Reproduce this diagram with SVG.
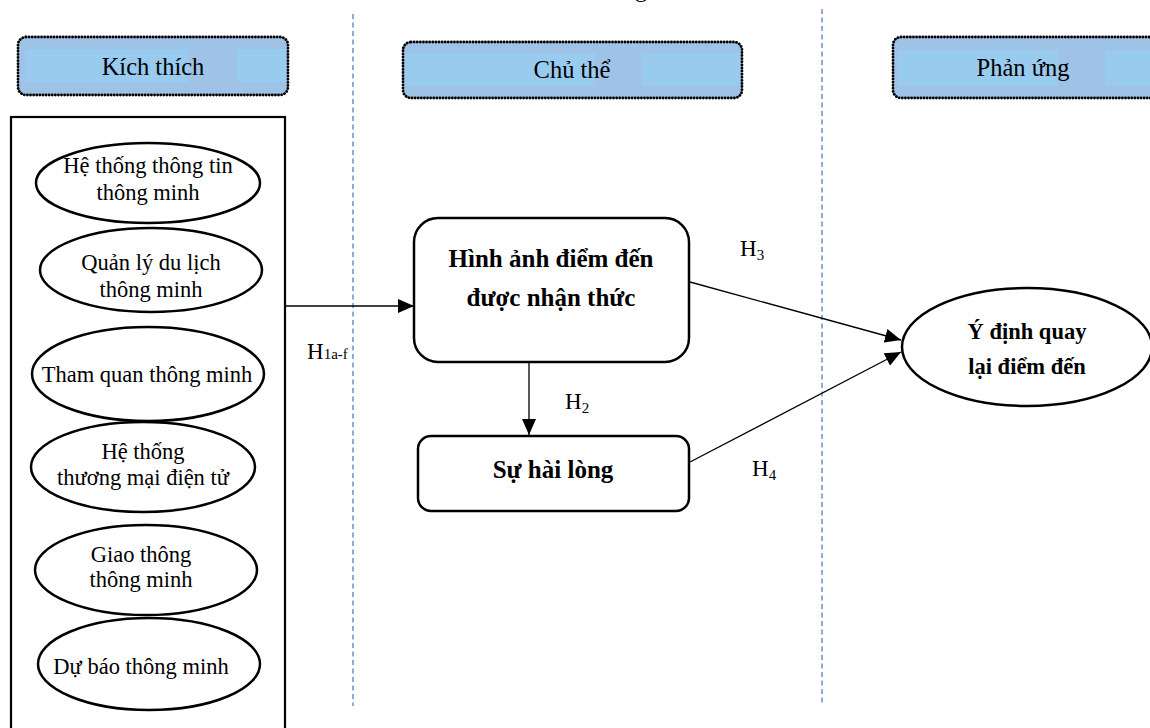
<svg xmlns="http://www.w3.org/2000/svg" width="1150" height="728" viewBox="0 0 1150 728">
<style>
  text { font-family: "Liberation Serif", "Times New Roman", serif; fill: #000; }
  .hdr { font-size: 24.5px; text-anchor: middle; }
  .ell { font-size: 22.5px; text-anchor: middle; }
  .bold { font-size: 25px; font-weight: bold; text-anchor: middle; }
  .lab { font-size: 23px; }
  .sub { font-size: 15px; }
  .hbox { fill: #9EC3E6; stroke: #000; stroke-width: 2.8; stroke-dasharray: 0.1 3; stroke-linecap: round; }
  .band { fill: #99CBEF; }
  .node { fill: #fff; stroke: #000; stroke-width: 2.5; }
  .sep { stroke: #4472C4; stroke-width: 1.2; stroke-dasharray: 5 3.5; fill: none; }
  .conn { stroke: #000; stroke-width: 1.3; fill: none; }
</style>
<defs>
  <marker id="arr" viewBox="0 0 16 14" refX="16" refY="7" markerWidth="16" markerHeight="14" markerUnits="userSpaceOnUse" orient="auto">
    <path d="M0,0 L16,7 L0,14 Z" fill="#000"/>
  </marker>
</defs>
<rect width="1150" height="728" fill="#fff"/>

<text x="635" y="-3" style="font-size:24px">g</text>

<g id="separators">
  <line class="sep" x1="353" y1="14" x2="353" y2="706"/>
  <line class="sep" x1="822" y1="9" x2="822" y2="706"/>
</g>

<g id="hdr-kich-thich">
  <rect class="hbox" x="18" y="37" width="270" height="58" rx="8"/>
  <rect class="band" x="25" y="49" width="163" height="33"/>
  <rect class="band" x="237" y="49" width="49" height="33"/>
  <text class="hdr" x="153" y="75">Kích thích</text>
</g>
<g id="hdr-chu-the">
  <rect class="hbox" x="403" y="42" width="339" height="56" rx="8"/>
  <rect class="band" x="405" y="53" width="190" height="33"/>
  <rect class="band" x="642" y="53" width="98" height="33"/>
  <text class="hdr" x="572" y="78">Chủ thể</text>
</g>
<g id="hdr-phan-ung">
  <rect class="hbox" x="893" y="37" width="270" height="61" rx="8"/>
  <rect class="band" x="898" y="50" width="160" height="36"/>
  <rect class="band" x="1105" y="50" width="45" height="36"/>
  <text class="hdr" x="1023" y="76">Phản ứng</text>
</g>

<g id="stimuli">
  <rect x="11" y="117" width="274" height="620" fill="none" stroke="#000" stroke-width="2.2"/>
  <g id="n-he-thong-thong-tin">
    <ellipse class="node" cx="148" cy="183" rx="112" ry="40"/>
    <text class="ell" x="148" y="173">Hệ thống thông tin</text>
    <text class="ell" x="148" y="200">thông minh</text>
  </g>
  <g id="n-quan-ly">
    <ellipse class="node" cx="151" cy="270" rx="111" ry="42"/>
    <text class="ell" x="151" y="270">Quản lý du lịch</text>
    <text class="ell" x="151" y="297">thông minh</text>
  </g>
  <g id="n-tham-quan">
    <ellipse class="node" cx="148" cy="374" rx="116" ry="47"/>
    <text class="ell" x="147" y="382">Tham quan thông minh</text>
  </g>
  <g id="n-thuong-mai">
    <ellipse class="node" cx="143" cy="467" rx="112" ry="45"/>
    <text class="ell" x="143" y="459">Hệ thống</text>
    <text class="ell" x="143" y="485">thương mại điện tử</text>
  </g>
  <g id="n-giao-thong">
    <ellipse class="node" cx="146" cy="570" rx="111" ry="45"/>
    <text class="ell" x="141" y="562">Giao thông</text>
    <text class="ell" x="141" y="587">thông minh</text>
  </g>
  <g id="n-du-bao">
    <ellipse class="node" cx="149" cy="664" rx="111" ry="46"/>
    <text class="ell" x="141" y="674">Dự báo thông minh</text>
  </g>
</g>

<g id="n-hinh-anh">
  <rect class="node" x="414" y="218" width="275" height="144" rx="24"/>
  <text class="bold" x="551" y="267">Hình ảnh điểm đến</text>
  <text class="bold" x="551" y="306">được nhận thức</text>
</g>
<g id="n-su-hai-long">
  <rect class="node" x="418" y="436" width="271" height="75" rx="13"/>
  <text class="bold" x="553" y="478">Sự hài lòng</text>
</g>
<g id="n-y-dinh">
  <ellipse class="node" cx="1027" cy="347" rx="125" ry="59"/>
  <text class="bold" x="1027" y="339" style="font-size:22.5px">Ý định quay</text>
  <text class="bold" x="1027" y="374" style="font-size:22.5px">lại điểm đến</text>
</g>

<g id="connectors">
  <line class="conn" x1="286" y1="306" x2="414" y2="306" marker-end="url(#arr)"/>
  <line class="conn" x1="529" y1="363" x2="529" y2="435" marker-end="url(#arr)"/>
  <line class="conn" x1="690" y1="282" x2="901" y2="340" marker-end="url(#arr)"/>
  <line class="conn" x1="690" y1="462" x2="901" y2="352" marker-end="url(#arr)"/>
</g>

<g id="labels">
  <text class="lab" x="307" y="359">H<tspan class="sub">1a-f</tspan></text>
  <text class="lab" x="565" y="409">H<tspan class="sub" dy="4">2</tspan></text>
  <text class="lab" x="740" y="256">H<tspan class="sub" dy="4">3</tspan></text>
  <text class="lab" x="752" y="476">H<tspan class="sub" dy="4">4</tspan></text>
</g>
</svg>
